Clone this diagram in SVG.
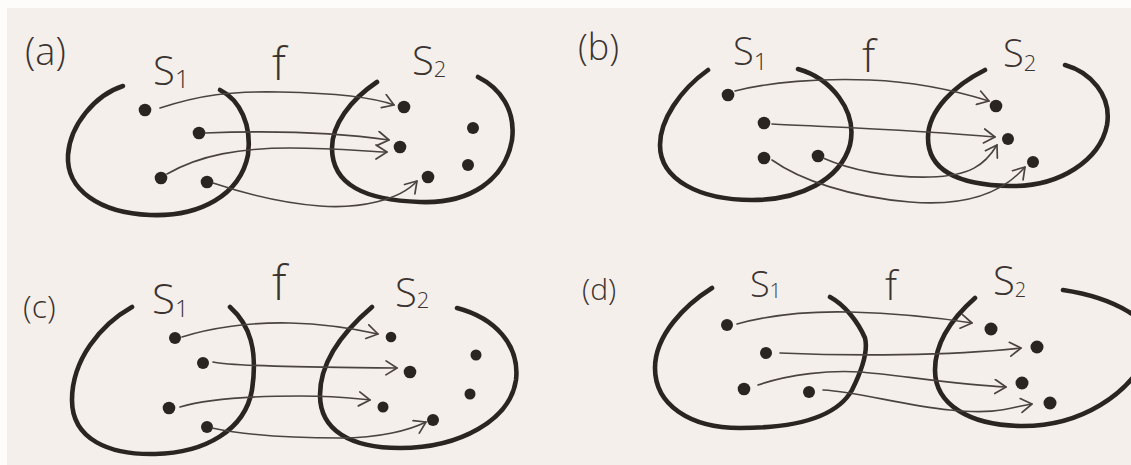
<svg xmlns="http://www.w3.org/2000/svg" width="1131" height="465" viewBox="0 0 1131 465">
<defs>
<style>
.set{fill:none;stroke:#2b2522;stroke-width:4.6;stroke-linecap:round;stroke-linejoin:round}
.dot{fill:#2b2522}
.arr{fill:none;stroke:#4a4340;stroke-width:1.6;stroke-linecap:round;marker-end:url(#ah)}
.lbl{font-family:"Open Sans","DejaVu Sans",sans-serif;font-weight:300;fill:#3a3330}
</style>
<marker id="ah" markerUnits="userSpaceOnUse" markerWidth="18" markerHeight="18" refX="12" refY="8" orient="auto">
<path d="M1,1 L12,8 L1,15" fill="none" stroke="#4a4340" stroke-width="1.7" stroke-linecap="round" stroke-linejoin="round"/>
</marker>
</defs>
<rect x="0" y="0" width="1131" height="465" fill="#f5efeb"/>
<rect x="0" y="0" width="1131" height="8" fill="#fdfcfb"/>
<rect x="0" y="0" width="7" height="465" fill="#fdfcfb"/>

<!-- Panel a -->
<g id="panel-a">
<text class="lbl" x="25" y="65" font-size="38">(a)</text>
<g id="a-S1">
<path class="set" d="M123,86 C95,95 70,125 68,155 C66,190 100,213 150,215 C200,217 240,195 248,155 C252,125 240,100 220,90"/>
<text class="lbl" x="153" y="85" font-size="40">S<tspan font-size="26" dy="3">1</tspan></text>
<circle class="dot" cx="145" cy="110" r="6.3"/>
<circle class="dot" cx="199" cy="133" r="6.3"/>
<circle class="dot" cx="161" cy="178" r="6.3"/>
<circle class="dot" cx="207" cy="182" r="6.3"/>
</g>
<text class="lbl" x="272" y="80" font-size="46">f</text>
<g id="a-S2">
<path class="set" d="M377,82 C350,100 332,125 332,148 C332,185 365,200 420,202 C470,204 505,180 512,140 C516,110 500,88 478,77"/>
<text class="lbl" x="412" y="75" font-size="40">S<tspan font-size="22" dy="2">2</tspan></text>
<circle class="dot" cx="404" cy="107" r="6.3"/>
<circle class="dot" cx="400" cy="147" r="6.3"/>
<circle class="dot" cx="473" cy="128" r="6"/>
<circle class="dot" cx="468" cy="165" r="6"/>
<circle class="dot" cx="428" cy="177" r="6.3"/>
</g>
<g id="a-connectors">
<path class="arr" d="M160,108 C200,95 230,91 280,92 S370,96 394,105"/>
<path class="arr" d="M205,133 C280,130 340,133 389,140"/>
<path class="arr" d="M167,174 C200,155 240,148 290,148 S370,152 387,152"/>
<path class="arr" d="M213,183 C240,192 280,203 320,206 S400,200 417,181"/>
</g>
</g>

<!-- Panel b -->
<g id="panel-b">
<text class="lbl" x="578" y="60" font-size="36">(b)</text>
<g id="b-S1">
<path class="set" d="M708,70 C680,90 660,120 660,145 C660,180 700,200 752,200 C800,200 840,180 850,145 C858,110 830,78 798,69"/>
<text class="lbl" x="733" y="65" font-size="38">S<tspan font-size="24" dy="5">1</tspan></text>
<circle class="dot" cx="728" cy="95" r="6.3"/>
<circle class="dot" cx="764" cy="123" r="6.3"/>
<circle class="dot" cx="764" cy="158" r="6.3"/>
<circle class="dot" cx="818" cy="156" r="6.3"/>
</g>
<text class="lbl" x="862" y="72" font-size="44">f</text>
<g id="b-S2">
<path class="set" d="M985,70 C955,85 928,110 928,138 C928,172 960,185 1010,186 C1060,187 1100,160 1107,125 C1112,95 1090,72 1065,65"/>
<text class="lbl" x="1003" y="67" font-size="38">S<tspan font-size="22" dy="4">2</tspan></text>
<circle class="dot" cx="996" cy="106" r="6.3"/>
<circle class="dot" cx="1008" cy="139" r="6"/>
<circle class="dot" cx="1033" cy="162" r="6"/>
</g>
<g id="b-connectors">
<path class="arr" d="M735,91 C770,82 820,78 870,80 S960,92 989,101"/>
<path class="arr" d="M772,124 C830,127 920,130 995,137"/>
<path class="arr" d="M823,158 C850,170 890,178 930,177 S985,165 997,145"/>
<path class="arr" d="M772,160 C800,180 850,197 910,202 S1005,190 1025,167"/>
</g>
</g>

<!-- Panel c -->
<g id="panel-c">
<text class="lbl" x="23" y="318" font-size="32">(c)</text>
<g id="c-S1">
<path class="set" d="M132,307 C100,325 72,360 72,400 C72,440 110,455 155,454 C205,453 245,430 252,390 C258,350 250,325 230,307"/>
<text class="lbl" x="152" y="314" font-size="42">S<tspan font-size="24" dy="3">1</tspan></text>
<circle class="dot" cx="175" cy="338" r="6"/>
<circle class="dot" cx="203" cy="363" r="6"/>
<circle class="dot" cx="169" cy="408" r="6.3"/>
<circle class="dot" cx="207" cy="427" r="6"/>
</g>
<text class="lbl" x="272" y="300" font-size="48">f</text>
<g id="c-S2">
<path class="set" d="M372,307 C345,330 320,360 320,395 C320,430 350,448 400,448 C460,448 510,420 516,380 C520,345 495,318 457,308"/>
<text class="lbl" x="395" y="307" font-size="40">S<tspan font-size="22" dy="1">2</tspan></text>
<circle class="dot" cx="391" cy="337" r="5.3"/>
<circle class="dot" cx="410" cy="372" r="6.3"/>
<circle class="dot" cx="476" cy="355" r="5.5"/>
<circle class="dot" cx="470" cy="394" r="5.5"/>
<circle class="dot" cx="383" cy="407" r="5.5"/>
<circle class="dot" cx="433" cy="420" r="6"/>
</g>
<g id="c-connectors">
<path class="arr" d="M182,337 C210,328 250,322 290,323 S360,330 378,334"/>
<path class="arr" d="M213,362 C230,366 300,367 397,368"/>
<path class="arr" d="M180,407 C210,398 260,396 300,396 S350,398 370,400"/>
<path class="arr" d="M212,428 C250,436 300,438 340,438 S410,430 426,422"/>
</g>
</g>

<!-- Panel d -->
<g id="panel-d">
<text class="lbl" x="582" y="300" font-size="30">(d)</text>
<g id="d-S1">
<path class="set" d="M712,288 C685,305 655,335 655,368 C655,405 690,428 740,428 C800,428 838,415 852,390 C862,370 868,350 865,338 C858,322 845,305 830,297"/>
<text class="lbl" x="750" y="297" font-size="36">S<tspan font-size="20" dy="1">1</tspan></text>
<circle class="dot" cx="727" cy="325" r="6"/>
<circle class="dot" cx="766" cy="353" r="6"/>
<circle class="dot" cx="744" cy="389" r="6.3"/>
<circle class="dot" cx="809" cy="392" r="6"/>
</g>
<text class="lbl" x="885" y="300" font-size="40">f</text>
<g id="d-S2">
<path class="set" d="M975,298 C950,320 935,345 935,370 C935,405 970,425 1020,426 C1080,427 1130,395 1150,350 C1160,320 1110,297 1063,290"/>
<text class="lbl" x="993" y="295" font-size="40">S<tspan font-size="20" dy="2">2</tspan></text>
<circle class="dot" cx="991" cy="329" r="6.5"/>
<circle class="dot" cx="1037" cy="347" r="6.5"/>
<circle class="dot" cx="1022" cy="383" r="6.5"/>
<circle class="dot" cx="1050" cy="403" r="6.5"/>
</g>
<g id="d-connectors">
<path class="arr" d="M737,324 C770,315 810,311 850,312 S940,318 972,323"/>
<path class="arr" d="M780,353 C850,356 950,356 1021,348"/>
<path class="arr" d="M758,385 C790,374 830,370 860,372 S960,385 1006,387"/>
<path class="arr" d="M823,390 C860,392 900,405 950,410 S1010,407 1032,404"/>
</g>
</g>
</svg>
